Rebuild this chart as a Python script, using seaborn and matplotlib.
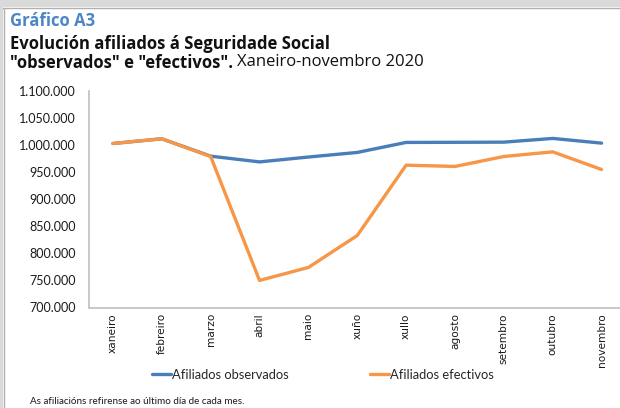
import matplotlib
matplotlib.use("Agg")
import matplotlib.pyplot as plt
import matplotlib.patches as mpatches
import pandas as pd
import seaborn as sns

# Monthly social-security affiliates, Galicia 2020
months = ["xaneiro", "febreiro", "marzo", "abril", "maio", "xuño",
          "xullo", "agosto", "setembro", "outubro", "novembro"]
observados = [1003000, 1011700, 979600, 969000, 978000, 986500,
              1005000, 1005200, 1005500, 1012400, 1003700]
efectivos = [1003000, 1011700, 979000, 750000, 774000, 833000,
             963000, 960600, 979000, 987600, 955000]
series_names = ["Afiliados observados", "Afiliados efectivos"]
y_ticks = [700000, 750000, 800000, 850000, 900000, 950000,
           1000000, 1050000, 1100000]

df = pd.concat([
    pd.DataFrame({"mes": months, "afiliados": observados, "serie": series_names[0]}),
    pd.DataFrame({"mes": months, "afiliados": efectivos, "serie": series_names[1]}),
], ignore_index=True)

sns.set_theme(style="white")
plt.rcParams["font.family"] = ["Lato", "DejaVu Sans"]

W, H = 620, 408
fig = plt.figure(figsize=(W / 100, H / 100), dpi=100)
fig.patch.set_facecolor("white")

# grey frame along the top and left edges
fig.add_artist(mpatches.Rectangle((0, 1 - 7 / H), 1, 7 / H, transform=fig.transFigure,
                                  facecolor="#d9d9d9", edgecolor="none", zorder=0))
fig.add_artist(mpatches.Rectangle((0, 0), 3 / W, 1, transform=fig.transFigure,
                                  facecolor="#d9d9d9", edgecolor="none", zorder=0))
fig.add_artist(plt.Line2D([3 / W, 1], [1 - 7.5 / H, 1 - 7.5 / H], transform=fig.transFigure,
                          color="#b0b0b0", lw=1))
fig.add_artist(plt.Line2D([3.5 / W, 3.5 / W], [0, 1 - 7.5 / H], transform=fig.transFigure,
                          color="#b0b0b0", lw=1))

left, right = 88.5, 626.0
top, bottom = 91.0, 307.5
ax = fig.add_axes([left / W, 1 - bottom / H, (right - left) / W, (bottom - top) / H])

palette = {series_names[0]: "#4a7ebb", series_names[1]: "#f79646"}
sns.lineplot(data=df, x="mes", y="afiliados", hue="serie", palette=palette,
             hue_order=series_names, sort=False, linewidth=2.4, ax=ax, legend=False)

ax.set_xlim(-0.5, len(months) - 0.5)
ax.set_ylim(700000, 1100000)
ax.set_yticks(y_ticks)
ax.set_yticklabels([f"{v:,}".replace(",", ".") for v in y_ticks], fontsize=9, color="#1a1a1a")
ax.set_xticks(range(len(months)))
ax.set_xticklabels(months, rotation=90, fontsize=7.6, color="#1a1a1a", va="top",
                   family="DejaVu Sans")
ax.set_xlabel("")
ax.set_ylabel("")
ax.tick_params(axis="y", length=0, pad=9)
ax.tick_params(axis="x", length=0, pad=4)
for side in ("top", "right"):
    ax.spines[side].set_visible(False)
for side in ("left", "bottom"):
    ax.spines[side].set_color("#bfbfbf")
    ax.spines[side].set_linewidth(1.2)

# legend
handles = [plt.Line2D([], [], color=palette[n], lw=2.4) for n in series_names]
fig.legend(handles, series_names, loc="center left", bbox_to_anchor=(152 / W, 1 - 375 / H),
           ncol=2, frameon=False, fontsize=9.3, handlelength=1.5, handletextpad=0.05,
           columnspacing=6.25, borderaxespad=0, borderpad=0)

# titles
title_font = ["Open Sans", "DejaVu Sans"]
fig.text(10 / W, 1 - 21 / H, "Gráfico A3", color="#4a86c8", fontsize=12,
         fontweight="bold", va="center", ha="left", family=title_font)
fig.text(10 / W, 1 - 44 / H, "Evolución afiliados á Seguridade Social", color="#111111",
         fontsize=12, fontweight="bold", va="center", ha="left", family=title_font)
t_bold = fig.text(10 / W, 1 - 62.5 / H, "\"observados\" e \"efectivos\".", color="#111111",
                  fontsize=12, fontweight="bold", va="center", ha="left", family=title_font)
renderer = fig.canvas.get_renderer()
bb = t_bold.get_window_extent(renderer)
fig.text(bb.x1 / W + 4 / W, 1 - 62.5 / H, "Xaneiro-novembro 2020", color="#111111",
         fontsize=12, va="center", ha="left", family=title_font)

fig.text(30 / W, 1 - 402 / H, "As afiliacións refirense ao último día de cada mes.",
         color="#1a1a1a", fontsize=7.1, va="center", ha="left")

fig.savefig("out.png", dpi=100, facecolor="white")
